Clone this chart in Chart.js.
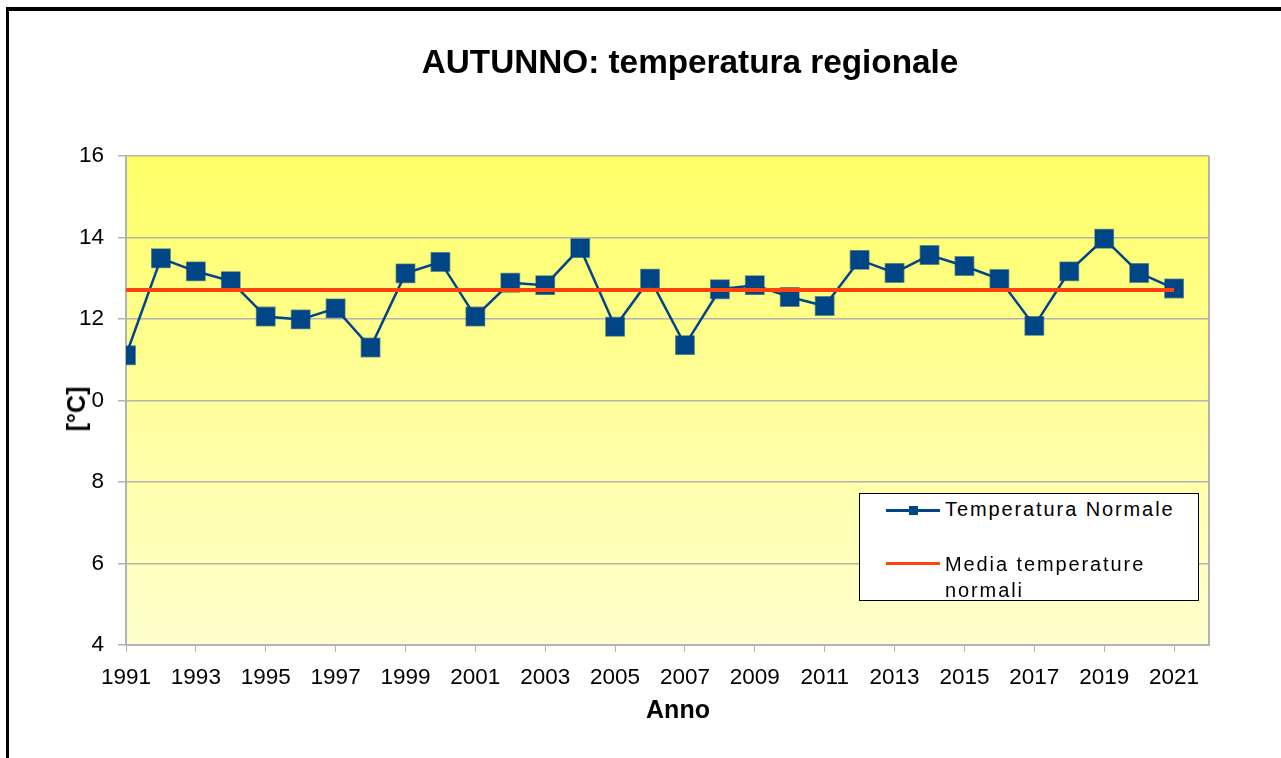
<!DOCTYPE html>
<html>
<head>
<meta charset="utf-8">
<script src="https://cdn.jsdelivr.net/npm/chart.js@4/dist/chart.umd.min.js"></script>
<style>
  html, body { margin: 0; padding: 0; background: #fff; overflow: hidden; }
  #wrap { position: relative; width: 1281px; height: 758px; overflow: hidden; font-family: "Liberation Sans", Arial, sans-serif; }
  #chart { position: absolute; left: 0; top: 0; }
  #frame { position: absolute; left: 6px; top: 7px; width: 1300px; height: 800px; border-top: 4px solid #000; border-left: 3px solid #000; pointer-events: none; }
  #title { position: absolute; left: 690px; top: 45px; transform: translateX(-50%); font-weight: bold; font-size: 33.3px; line-height: 33px; white-space: nowrap; color: #000; }
  #xtitle { position: absolute; left: 678px; top: 697px; transform: translateX(-50%); font-weight: bold; font-size: 25px; line-height: 25px; color: #000; }
  #ytitle { position: absolute; left: 75.5px; top: 409px; transform: translate(-50%, -50%) rotate(-90deg); font-weight: bold; font-size: 25px; line-height: 30px; background: #fff; padding: 0 1px; white-space: nowrap; color: #000; }
  #legend { position: absolute; left: 859px; top: 493px; width: 340px; height: 108px; border: 1px solid #000; background: #fff; box-sizing: border-box; }
  .key { position: absolute; left: 26px; width: 54px; }
  .key .sq { position: absolute; left: 23px; width: 9px; height: 9px; }
  .lbl { position: absolute; left: 85px; font-size: 20px; line-height: 26px; letter-spacing: 1.9px; white-space: nowrap; color: #000; }
</style>
</head>
<body>
<div id="wrap">
  <canvas id="chart" width="1281" height="758"></canvas>
  <div id="title">AUTUNNO: temperatura regionale</div>
  <div id="xtitle">Anno</div>
  <div id="ytitle">[°C]</div>
  <div id="legend"></div>
  <div id="frame"></div>
</div>
<script>
'use strict';

const years = [1991, 1992, 1993, 1994, 1995, 1996, 1997, 1998, 1999, 2000,
  2001, 2002, 2003, 2004, 2005, 2006, 2007, 2008, 2009, 2010,
  2011, 2012, 2013, 2014, 2015, 2016, 2017, 2018, 2019, 2020, 2021];
const temps = [11.11, 13.49, 13.17, 12.93, 12.06, 11.99, 12.26, 11.30, 13.12, 13.40,
  12.06, 12.89, 12.83, 13.74, 11.81, 12.99, 11.36, 12.73, 12.83, 12.54,
  12.32, 13.45, 13.13, 13.57, 13.30, 12.98, 11.83, 13.17, 13.97, 13.13, 12.75];
const meanYears = [1991, 2021];
const meanTemps = [12.71, 12.71];
const tickYears = [1991, 1993, 1995, 1997, 1999, 2001, 2003, 2005, 2007, 2009, 2011, 2013, 2015, 2017, 2019, 2021];
const seriesNames = ['Temperatura Normale', 'Media temperature normali'];

const BLUE = '#004586';
const RED = '#ff420e';
const GRID = '#b3b3b3';
const FONT = '"Liberation Sans", Arial, sans-serif';

function $(id) { return document.getElementById(id); }

// yellow gradient behind the plot + the grey right edge of the frame
const plotFrame = {
  id: 'plotFrame',
  beforeDraw(chart) {
    const { ctx, chartArea: a } = chart;
    const g = ctx.createLinearGradient(0, a.top, 0, a.bottom);
    g.addColorStop(0, '#ffff66');
    g.addColorStop(1, '#ffffcf');
    ctx.save();
    ctx.fillStyle = g;
    ctx.fillRect(a.left, a.top, a.right - a.left, a.bottom - a.top);
    ctx.strokeStyle = GRID;
    ctx.lineWidth = 2;
    ctx.beginPath();
    ctx.moveTo(a.right, a.top);
    ctx.lineTo(a.right, a.bottom + 1);
    ctx.stroke();
    ctx.restore();
  }
};

function buildLegend() {
  const box = $('legend');
  box.innerHTML =
    '<div class="key" style="top:15px;height:2.5px;background:' + BLUE + '">' +
      '<div class="sq" style="top:-3.5px;background:' + BLUE + '"></div></div>' +
    '<div class="lbl" style="top:2px">' + seriesNames[0] + '</div>' +
    '<div class="key" style="top:68px;height:3px;background:' + RED + '"></div>' +
    '<div class="lbl" style="top:57px;white-space:normal;width:220px">' + seriesNames[1] + '</div>';
}

new Chart($('chart').getContext('2d'), {
  type: 'line',
  data: {
    datasets: [
      {
        label: seriesNames[0],
        data: years.map((y, i) => ({ x: y, y: temps[i] })),
        borderColor: BLUE,
        borderWidth: 2.5,
        pointStyle: 'rect',
        pointRadius: 13,
        pointBackgroundColor: BLUE,
        pointBorderColor: 'rgba(0,69,134,0.55)',
        pointBorderWidth: 1.5,
        tension: 0,
        order: 2
      },
      {
        label: seriesNames[1],
        data: meanYears.map((y, i) => ({ x: y, y: meanTemps[i] })),
        borderColor: RED,
        borderWidth: 4,
        pointRadius: 0,
        order: 1
      }
    ]
  },
  options: {
    responsive: false,
    animation: false,
    devicePixelRatio: 1,
    layout: { padding: { top: 156, right: 72, bottom: 0, left: 0 } },
    plugins: { legend: { display: false }, tooltip: { enabled: false }, title: { display: false } },
    scales: {
      x: {
        type: 'linear',
        min: 1991,
        max: 2022,
        afterBuildTicks: axis => { axis.ticks = tickYears.map(v => ({ value: v })); },
        afterFit: axis => { axis.height = 113; },
        grid: { drawOnChartArea: false, drawTicks: true, tickLength: 7, color: GRID },
        border: { color: GRID, width: 2 },
        ticks: {
          autoSkip: false, maxRotation: 0, padding: 12, color: '#000',
          font: { family: FONT, size: 22.5 },
          callback: v => String(v)
        }
      },
      y: {
        min: 4,
        max: 16,
        afterFit: axis => { axis.width = 126; },
        grid: { color: GRID, tickLength: 8, lineWidth: 1.5 },
        border: { color: GRID, width: 2 },
        ticks: { stepSize: 2, padding: 14, color: '#000', font: { family: FONT, size: 22.5 } }
      }
    }
  },
  plugins: [plotFrame]
});

buildLegend();
</script>
</body>
</html>
